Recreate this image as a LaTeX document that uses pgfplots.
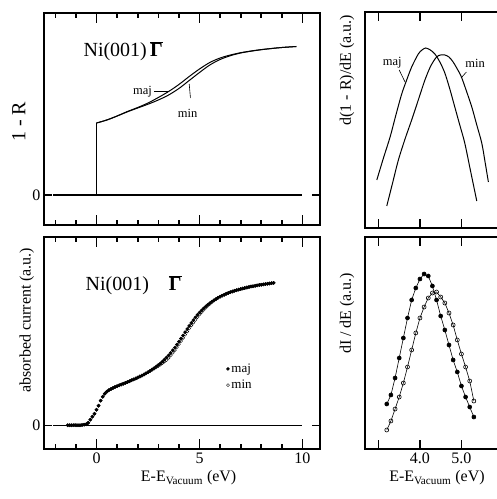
\documentclass[border=0pt]{standalone}
\usepackage{fontspec}
\setmainfont{Liberation Serif}
\usepackage{pgfplots}
\usepackage{pgfplotstable}
\pgfplotsset{compat=1.18}

\newcommand{\gbar}{\ensuremath{\overline{\mbox{\bfseries Γ}}}}

% absorbed current, bottom left
\pgfplotstableread{
x maj min
-1.4 0.5 0.5
-1.3 0.5 0.5
-1.2 0.5 0.5
-1.1 0.5 0.5
-1.0 0.5 0.5
-0.9 0.5 0.5
-0.8 0.5 0.5
-0.7 0.7 0.7
-0.6 1.0 1.0
-0.5 1.5 1.5
-0.4 3 3
-0.3 6 6
-0.2 9 9
-0.1 12 12
0.0 16 16
0.1 20 20
0.2 25 25
0.3 29 29
0.4 32 32
0.5 34 34
0.6 35.5 35.5
0.7 36.7 36.7
0.8 37.8 37.8
0.9 38.7 38.7
1.0 39.5 39.5
1.1 40.4 40.4
1.2 41.2 41.2
1.3 42.0 42.0
1.4 42.8 42.8
1.5 43.6 43.6
1.6 44.5 44.5
1.7 45.4 45.4
1.8 46.3 46.3
1.9 47.2 47.2
2.0 48.1 48.1
2.1 49.1 49.1
2.2 50.1 50.1
2.3 51.2 51.2
2.4 52.3 52.3
2.5 53.5 53.5
2.6 54.8 54.8
2.7 56.2 56.0
2.8 57.6 57.1
2.9 59.1 58.4
3.0 60.7 59.7
3.1 62.4 61.2
3.2 64.2 62.7
3.3 66.1 64.3
3.4 68.2 65.7
3.5 70.4 67.9
3.6 72.8 70.3
3.7 75.4 72.9
3.8 78.1 75.6
3.9 81.0 78.5
4.0 84.0 81.5
4.1 87.1 84.6
4.2 90.3 87.8
4.3 93.5 91.0
4.4 96.7 94.2
4.5 99.8 97.3
4.6 102.8 100.3
4.7 105.6 103.1
4.8 108.3 105.8
4.9 110.8 108.6
5.0 113.1 111.1
5.1 115.3 113.5
5.2 117.3 115.8
5.3 119.2 117.9
5.4 120.9 119.9
5.5 122.5 121.7
5.6 124.0 123.5
5.7 125.4 125.1
5.8 126.7 126.5
5.9 127.9 127.9
6.0 129.0 129.0
6.1 130.0 130.0
6.2 131.0 131.0
6.3 131.9 131.9
6.4 132.7 132.7
6.5 133.5 133.5
6.6 134.2 134.2
6.7 134.9 134.9
6.8 135.5 135.5
6.9 136.1 136.1
7.0 136.7 136.7
7.1 137.2 137.2
7.2 137.7 137.7
7.3 138.2 138.2
7.4 138.7 138.7
7.5 139.1 139.1
7.6 139.5 139.5
7.7 139.9 139.9
7.8 140.3 140.3
7.9 140.7 140.7
8.0 141.0 141.0
8.1 141.3 141.3
8.2 141.6 141.6
8.3 141.9 141.9
8.4 142.2 142.2
8.5 142.5 142.5
8.6 142.8 142.8
}\absorbed

% dI/dE, bottom right
\pgfplotstableread{
x maj min
3.2 45 19
3.3 54 28
3.4 71 40
3.5 91 52
3.6 111 66
3.7 131 82
3.8 149 99
3.9 161 116
4.0 170 131
4.1 175 142
4.2 173 151
4.3 163 156
4.4 149 157
4.5 133 152
4.6 119 146
4.7 104 136
4.8 89 124
4.9 77 109
5.0 63 95
5.1 52 82
5.2 42 68
5.3 32 48
}\didE

\pgfplotsset{
  panel/.style={
    scale only axis, anchor=south west,
    major tick length=0pt, minor tick length=0pt,
    axis line style={line width=1.3pt},
    tick label style={font=\fontsize{16}{18}\selectfont},
    label style={font=\fontsize{16}{18}\selectfont},
    /pgf/number format/assume math mode=true,
  },
}
% tick marks drawn in the frame: bottom and top of x, at ymin/ymax
\newcommand{\xticksat}[4]{% list, ymin, ymax, length
  \pgfplotsinvokeforeach{#1}{%
    \draw[black, line width=1.6pt] (axis cs:##1,#2) -- ++(0pt,#4);
    \draw[black, line width=1.6pt] (axis cs:##1,#3) -- ++(0pt,-#4);}}

\begin{document}
\begin{tikzpicture}

% top left: 1 - R
\begin{axis}[panel, at={(44pt,274pt)}, width=276pt, height=212pt,
    xmin=-2.55, xmax=10.85, ymin=-30, ymax=182,
    xtick={0,5,10}, minor xtick={-2,-1,1,2,3,4,6,7,8,9},
    xticklabels={}, ytick={0},
    ylabel={1 - R},
    ylabel style={at={(axis description cs:-0.091,0.486)}, anchor=center,
        font=\fontsize{20}{22}\selectfont}]
\xticksat{0,5,10}{-30}{182}{10pt}
\xticksat{-2,-1,1,2,3,4,6,7,8,9}{-30}{182}{5pt}
\draw[black, line width=1.6pt] (axis cs:-2.55,0) -- ++(8pt,0pt);
\draw[black, line width=1.6pt] (axis cs:10.85,0) -- ++(-8pt,0pt);
\addplot[black, line width=1.2pt] coordinates {(-2.1,0) (10,0)};
\addplot[black, line width=1.2pt] coordinates {(0,0) (0,72)};
\addplot[black, line width=1.0pt, smooth] coordinates {
 (0,72) (0.5,75) (1.0,79) (1.5,83.2) (2.0,87) (2.5,90.8) (3.0,95) (3.5,100)
 (4.0,106.5) (4.5,114.5) (5.0,122.5) (5.5,130) (6.0,135.5) (6.5,139.3)
 (7.0,142) (7.5,143.8) (8.0,145.3) (8.5,146.5) (9.0,147.5) (9.7,148.5)};
\addplot[black, line width=1.0pt, smooth] coordinates {
 (0,72) (0.5,75) (1.0,79) (1.5,83.5) (2.0,87.5) (2.5,92) (3.0,97.5) (3.5,103.5)
 (4.0,110.5) (4.5,118.5) (5.0,126) (5.5,132.5) (6.0,137) (6.5,140)
 (7.0,142.3) (7.5,144) (8.0,145.4) (8.5,146.5) (9.0,147.5) (9.7,148.5)};
\node[anchor=west, font=\fontsize{20}{22}\selectfont] at (axis cs:-0.8,144) {Ni(001)\,\gbar};
\node[anchor=east, font=\fontsize{12.5}{14}\selectfont, inner sep=1pt] at (axis cs:2.75,103.5) {maj};
\draw[line width=0.6pt] (axis cs:2.8,103.3) -- (axis cs:3.5,103.3);
\node[font=\fontsize{12.5}{14}\selectfont] at (axis cs:4.42,82) {min};
\draw[line width=0.6pt] (axis cs:4.56,97) -- (axis cs:4.5,111);
\end{axis}

% bottom left: absorbed current
\begin{axis}[panel, at={(44pt,50pt)}, width=276pt, height=212pt,
    xmin=-2.55, xmax=10.85, ymin=-23.3, ymax=188.7,
    xtick={0,5,10}, minor xtick={-2,-1,1,2,3,4,6,7,8,9}, ytick={0},
    xlabel={E-E\textsubscript{Vacuum} (eV)},
    xlabel style={at={(axis description cs:0.524,-0.137)}, anchor=center},
    ylabel={absorbed current (a.u.)},
    ylabel style={at={(axis description cs:-0.062,0.608)}, anchor=center},
    reverse legend,
    legend style={at={(axis cs:6.3,64)}, anchor=north west, draw=none, fill=none,
        font=\fontsize{13}{14}\selectfont, inner sep=0pt, row sep=2pt},
    legend cell align=left,
    legend image code/.code={\draw[#1, only marks, mark size=1.5pt] plot coordinates {(0.12cm,0cm)};}]
\xticksat{0,5,10}{-23.3}{188.7}{10pt}
\xticksat{-2,-1,1,2,3,4,6,7,8,9}{-23.3}{188.7}{5pt}
\draw[black, line width=1.6pt] (axis cs:-2.55,0) -- ++(8pt,0pt);
\draw[black, line width=1.6pt] (axis cs:10.85,0) -- ++(-8pt,0pt);
\addplot[black, line width=1.2pt, forget plot] coordinates {(-2.1,0) (10,0)};
\addplot[only marks, mark=o, mark size=1.6pt, mark options={fill=white, line width=0.4pt}]
    table[x=x, y=min] {\absorbed};
\addlegendentry{min}
\addplot[only marks, mark=*, mark size=1.6pt] table[x=x, y=maj] {\absorbed};
\addlegendentry{maj}
\node[anchor=west, font=\fontsize{20}{22}\selectfont] at (axis cs:-0.7,140.7) {Ni(001)\quad\gbar};
\end{axis}

% top right: d(1-R)/dE
\begin{axis}[panel, at={(365pt,271pt)}, width=135pt, height=216pt,
    xmin=2.675, xmax=5.93, ymin=0, ymax=216,
    xtick={3,4,5}, xticklabels={}, ytick=\empty,
    ylabel={d(1 - R)/dE (a.u.)},
    ylabel style={at={(axis description cs:-0.133,0.731)}, anchor=center}]
\xticksat{3,4,5}{0}{216}{9pt}
\addplot[black, line width=1.0pt, smooth] coordinates {
 (2.96,48) (3.12,70) (3.28,91) (3.42,113) (3.56,134) (3.68,148) (3.80,161)
 (3.96,174) (4.05,178) (4.14,180) (4.25,178) (4.36,174) (4.48,166) (4.60,155)
 (4.72,139) (4.84,121) (4.96,103) (5.08,85) (5.22,57) (5.37,27)};
\addplot[black, line width=1.0pt, smooth] coordinates {
 (3.20,22) (3.34,45) (3.48,68) (3.64,89) (3.80,108) (3.96,128) (4.12,148)
 (4.26,162) (4.40,171) (4.50,173) (4.60,173) (4.70,171) (4.80,166) (4.90,159)
 (5.00,151) (5.12,137) (5.25,121) (5.37,103) (5.49,85) (5.57,66) (5.65,46)};
\node[font=\fontsize{12.5}{14}\selectfont] at (axis cs:3.33,165) {maj};
\draw[line width=0.6pt] (axis cs:3.50,158) -- (axis cs:3.64,146);
\node[font=\fontsize{12.5}{14}\selectfont] at (axis cs:5.33,165) {min};
\draw[line width=0.6pt] (axis cs:5.12,156) -- (axis cs:4.99,150);
\end{axis}

% bottom right: dI/dE
\begin{axis}[panel, at={(365pt,50pt)}, width=135pt, height=212pt,
    xmin=2.675, xmax=5.93, ymin=0, ymax=212,
    xtick={3,4,5}, xticklabels={,4.0,5.0}, ytick=\empty,
    xlabel={E-E\textsubscript{Vacuum} (eV)},
    xlabel style={at={(axis description cs:0.533,-0.137)}, anchor=center},
    ylabel={dI / dE (a.u.)},
    ylabel style={at={(axis description cs:-0.133,0.64)}, anchor=center}]
\xticksat{3,4,5}{0}{212}{9pt}
\addplot[black, line width=0.6pt, mark=*, mark size=2pt] table[x=x, y=maj] {\didE};
\addplot[black, line width=0.6pt, mark=o, mark size=2pt, mark options={fill=white}]
    table[x=x, y=min] {\didE};
\end{axis}

% page is the reference frame; the right panels run off its edge
\pgfresetboundingbox
\path[use as bounding box] (0,0) rectangle (497pt,499pt);
\end{tikzpicture}
\end{document}
